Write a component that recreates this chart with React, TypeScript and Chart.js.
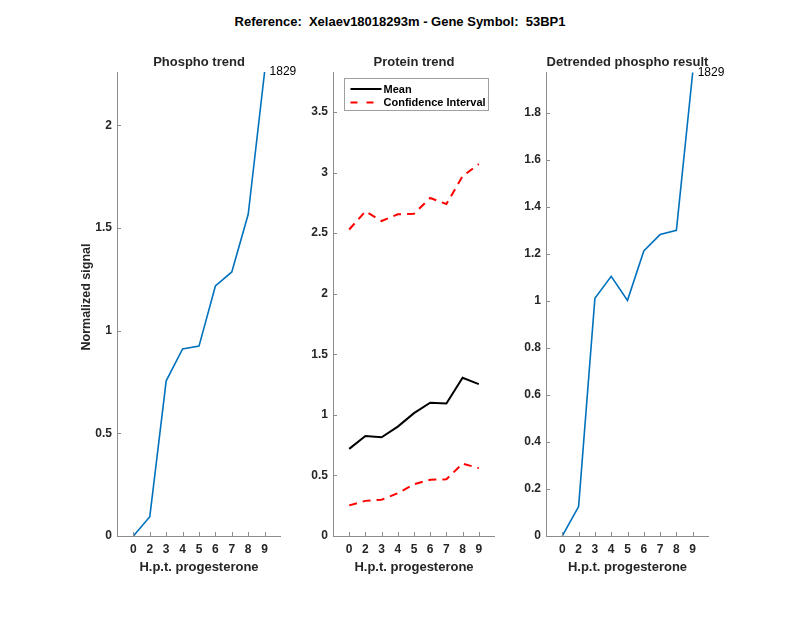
import React, { useEffect, useRef } from 'react';
import { Chart, registerables } from 'chart.js';

Chart.register(...registerables);

// ---- data ----
const hours = ['0', '2', '3', '4', '5', '6', '7', '8', '9'];
const phosphoTrend = [0, 0.094, 0.756, 0.911, 0.925, 1.218, 1.286, 1.567, 2.26];
const proteinMean = [0.719, 0.826, 0.815, 0.903, 1.014, 1.1, 1.094, 1.306, 1.254];
const proteinCIUpper = [2.53, 2.68, 2.6, 2.655, 2.66, 2.79, 2.74, 2.97, 3.07];
const proteinCILower = [0.253, 0.29, 0.3, 0.353, 0.427, 0.465, 0.468, 0.598, 0.56];
const detrendedPhospho = [0, 0.125, 1.012, 1.105, 1.003, 1.213, 1.283, 1.301, 1.973];
const peptideLabel = '1829';
const yTicksPhospho = [0, 0.5, 1, 1.5, 2];
const yTicksProtein = [0, 0.5, 1, 1.5, 2, 2.5, 3, 3.5];
const yTicksDetrended = [0, 0.2, 0.4, 0.6, 0.8, 1, 1.2, 1.4, 1.6, 1.8];
const yMaxPhospho = 2.26;
const yMaxProtein = 3.83;
const yMaxDetrended = 1.975;
const figureTitle = 'Reference:  Xelaev18018293m - Gene Symbol:  53BP1';
const panelTitles = ['Phospho trend', 'Protein trend', 'Detrended phospho result'];
const xAxisLabel = 'H.p.t. progesterone';
const yAxisLabel = 'Normalized signal';
const legendLabels = ['Mean', 'Confidence Interval'];

const FONT = '"Liberation Sans", Arial, Helvetica, sans-serif';
const TEXT = '#262626';
const AXIS = '#8c8c8c';
const BLUE = '#0072BD';

const toPts = (vals: number[]) => vals.map((v, i) => ({ x: i + 1, y: v }));

type PanelOpts = {
  left: number;
  right: number;
  title: string;
  yLabel?: string;
  endLabel?: string;
  legend?: boolean;
};

const matlabAxes = {
  id: 'matlabAxes',
  afterDraw(chart: any, _args: any, opts: PanelOpts) {
    const { ctx, chartArea: a } = chart;
    const xs = chart.scales.x;
    const ys = chart.scales.y;
    ctx.save();
    // axis lines
    ctx.strokeStyle = AXIS;
    ctx.lineWidth = 1;
    ctx.beginPath();
    ctx.moveTo(a.left + 0.5, a.top);
    ctx.lineTo(a.left + 0.5, a.bottom + 0.5);
    ctx.lineTo(a.right, a.bottom + 0.5);
    ctx.stroke();
    // inward ticks
    ctx.beginPath();
    xs.ticks.forEach((t: any) => {
      const px = Math.round(xs.getPixelForValue(t.value)) + 0.5;
      ctx.moveTo(px, a.bottom);
      ctx.lineTo(px, a.bottom - 4);
    });
    ys.ticks.forEach((t: any) => {
      const py = Math.round(ys.getPixelForValue(t.value)) + 0.5;
      ctx.moveTo(a.left, py);
      ctx.lineTo(a.left + 4, py);
    });
    ctx.stroke();

    const cx = (a.left + a.right) / 2;
    ctx.fillStyle = TEXT;
    ctx.textAlign = 'center';
    ctx.textBaseline = 'alphabetic';
    ctx.font = `bold 13px ${FONT}`;
    ctx.fillText(opts.title, cx, a.top - 6);
    ctx.fillText(xAxisLabel, cx, 571);

    if (opts.yLabel) {
      ctx.save();
      ctx.translate(90, 297);
      ctx.rotate(-Math.PI / 2);
      ctx.font = `bold 12.5px ${FONT}`;
      ctx.textBaseline = 'alphabetic';
      ctx.fillText(opts.yLabel, 0, 0);
      ctx.restore();
    }

    if (opts.endLabel) {
      const ds = chart.data.datasets[0].data;
      const last = ds[ds.length - 1];
      ctx.font = `12px ${FONT}`;
      ctx.textAlign = 'left';
      ctx.textBaseline = 'middle';
      ctx.fillStyle = '#000';
      ctx.fillText(opts.endLabel, xs.getPixelForValue(last.x) + 5, ys.getPixelForValue(last.y));
    }

    if (opts.legend) {
      const bx = a.left + 11.5;
      const by = a.top + 6.5;
      const bw = 144;
      const bh = 32;
      ctx.fillStyle = '#fff';
      ctx.fillRect(bx, by, bw, bh);
      ctx.strokeStyle = '#a0a0a0';
      ctx.lineWidth = 1;
      ctx.strokeRect(bx, by, bw, bh);
      const rows = [
        { label: legendLabels[0], color: '#000', dash: [] as number[] },
        { label: legendLabels[1], color: '#FF0000', dash: [7, 9] },
      ];
      rows.forEach((r, i) => {
        const y = by + 10.5 + i * 13.5;
        ctx.strokeStyle = r.color;
        ctx.lineWidth = 2;
        ctx.setLineDash(r.dash);
        ctx.beginPath();
        ctx.moveTo(bx + 6, y);
        ctx.lineTo(bx + 37, y);
        ctx.stroke();
        ctx.setLineDash([]);
        ctx.fillStyle = '#000';
        ctx.font = `bold 11px ${FONT}`;
        ctx.textAlign = 'left';
        ctx.textBaseline = 'middle';
        ctx.fillText(r.label, bx + 39, y + 0.5);
      });
    }
    ctx.restore();
  },
};

function makeConfig(panel: PanelOpts, datasets: any[], yTicks: number[], yMax: number) {
  const TOP = 72;
  const BOTTOM = 536;
  const Y_W = 40;
  const X_H = 30;
  return {
    type: 'line',
    data: { datasets },
    plugins: [matlabAxes],
    options: {
      animation: false,
      responsive: false,
      devicePixelRatio: 1,
      layout: {
        padding: {
          left: panel.left - Y_W,
          right: 800 - panel.right,
          top: TOP,
          bottom: 618 - BOTTOM - X_H,
        },
      },
      plugins: {
        legend: { display: false },
        title: { display: false },
        tooltip: { enabled: false },
        matlabAxes: panel,
      },
      elements: { point: { radius: 0 }, line: { tension: 0 } },
      scales: {
        x: {
          type: 'linear',
          min: 0,
          max: hours.length + 1,
          grid: { display: false, drawTicks: false },
          border: { display: false },
          afterBuildTicks: (s: any) => {
            s.ticks = hours.map((_, i) => ({ value: i + 1 }));
          },
          afterFit: (s: any) => {
            s.height = X_H;
          },
          ticks: {
            autoSkip: false,
            maxRotation: 0,
            padding: 6,
            color: TEXT,
            font: { family: FONT, size: 12, weight: 'bold' },
            callback: (v: number) => hours[Math.round(v) - 1] ?? '',
          },
        },
        y: {
          type: 'linear',
          min: 0,
          max: yMax,
          grid: { display: false, drawTicks: false },
          border: { display: false },
          afterBuildTicks: (s: any) => {
            s.ticks = yTicks.map((v) => ({ value: v }));
          },
          afterFit: (s: any) => {
            s.width = Y_W;
          },
          ticks: {
            autoSkip: false,
            padding: 5,
            color: TEXT,
            font: { family: FONT, size: 12, weight: 'bold' },
            callback: (v: number) => String(v),
          },
        },
      },
    },
  };
}

function Panel({ config }: { config: any }) {
  const ref = useRef<HTMLCanvasElement>(null);
  useEffect(() => {
    if (!ref.current) return;
    const chart = new Chart(ref.current, config);
    return () => chart.destroy();
  }, [config]);
  return (
    <canvas
      ref={ref}
      width={800}
      height={618}
      style={{ position: 'absolute', left: 0, top: 0, width: 800, height: 618 }}
    />
  );
}

const configs = [
  makeConfig(
    { left: 117, right: 281, title: panelTitles[0], yLabel: yAxisLabel, endLabel: peptideLabel },
    [{ data: toPts(phosphoTrend), borderColor: BLUE, borderWidth: 1.6, fill: false }],
    yTicksPhospho,
    yMaxPhospho
  ),
  makeConfig(
    { left: 333, right: 495, title: panelTitles[1], legend: true },
    [
      { label: legendLabels[0], data: toPts(proteinMean), borderColor: '#000', borderWidth: 2, fill: false },
      { label: legendLabels[1], data: toPts(proteinCIUpper), borderColor: '#FF0000', borderWidth: 2, borderDash: [8, 6], fill: false },
      { label: legendLabels[1], data: toPts(proteinCILower), borderColor: '#FF0000', borderWidth: 2, borderDash: [8, 6], fill: false },
    ],
    yTicksProtein,
    yMaxProtein
  ),
  makeConfig(
    { left: 546, right: 709, title: panelTitles[2], endLabel: peptideLabel },
    [{ data: toPts(detrendedPhospho), borderColor: BLUE, borderWidth: 1.6, fill: false }],
    yTicksDetrended,
    yMaxDetrended
  ),
];

export default function App() {
  return (
    <div style={{ position: 'absolute', left: 0, top: 0, width: 800, height: 618, background: '#fff', overflow: 'hidden' }}>
      <div
        style={{
          position: 'absolute',
          left: 0,
          top: 14,
          width: 800,
          textAlign: 'center',
          font: `bold 13px ${FONT}`,
          color: '#000',
          whiteSpace: 'pre',
        }}
      >
        {figureTitle}
      </div>
      {configs.map((c, i) => (
        <Panel key={i} config={c} />
      ))}
    </div>
  );
}
